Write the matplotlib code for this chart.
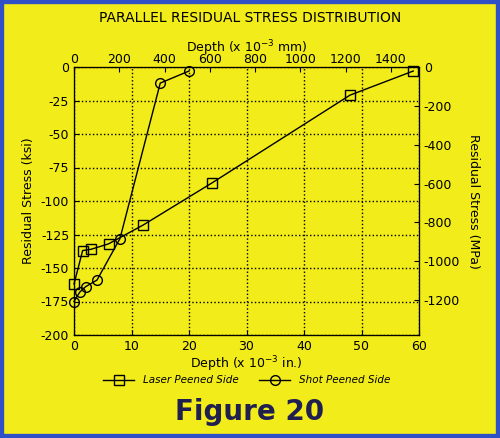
import matplotlib.pyplot as plt

laser_depth = [0, 1.5, 3, 6, 12, 24, 48, 59]
laser_stress = [-162, -137, -136, -132, -118, -86.5, -21, -3]
shot_depth = [0, 1, 2, 4, 8, 15, 20]
shot_stress = [-175, -168, -164, -159, -128, -12, -3]

plt.rcParams['axes.unicode_minus'] = False
yel = '#f2ec1a'
fig = plt.figure(figsize=(5, 4.38), dpi=100, facecolor=yel)
fig.patches.append(plt.Rectangle((0, 0), 1, 1, transform=fig.transFigure, fill=False,
                                 edgecolor='#3050c8', linewidth=6))
ax = fig.add_axes([74/500, 1-335/438, 345/500, 268/438], facecolor=yel)
ax.plot(laser_depth, laser_stress, 'k-', marker='s', mfc='none', ms=7, lw=1, label='Laser Peened Side', clip_on=False)
ax.plot(shot_depth, shot_stress, 'k-', marker='o', mfc='none', ms=7, lw=1, label='Shot Peened Side', clip_on=False)
ax.set_xlim(0, 60)
ax.set_ylim(-200, 0)
ax.set_xticks(range(0, 61, 10))
ax.set_yticks(range(-200, 1, 25))
ax.grid(True, color='k', linestyle=':', linewidth=1)
ax.tick_params(direction='in', labelsize=9)
ax.set_xlabel('Depth (x 10$^{-3}$ in.)', fontsize=9, labelpad=1)
ax.set_ylabel('Residual Stress (ksi)', fontsize=9)

ax2 = ax.twinx()
ax2.set_ylim(-200*6.895, 0)
ax2.set_yticks(range(-1200, 1, 200))
ax2.tick_params(direction='in', labelsize=9)
ax2.set_ylabel('Residual Stress (MPa)', fontsize=9, rotation=270, labelpad=14)

ax3 = ax.twiny()
ax3.set_xlim(0, 60*25.4)
ax3.set_xticks(range(0, 1401, 200))
ax3.tick_params(direction='in', labelsize=9, pad=1)
ax3.set_xlabel('Depth (x 10$^{-3}$ mm)', fontsize=9, labelpad=0)

fig.text(0.5, 0.95, 'PARALLEL RESIDUAL STRESS DISTRIBUTION', ha='center', fontsize=10)
ax.legend(loc='upper center', bbox_to_anchor=(0.5, -0.115), ncol=2, frameon=False,
          handlelength=3, prop={'style': 'italic', 'size': 7.5})
fig.text(0.5, 0.04, 'Figure 20', ha='center', fontsize=20, weight='bold', color='#202050')
fig.savefig('out.png', facecolor=yel)
